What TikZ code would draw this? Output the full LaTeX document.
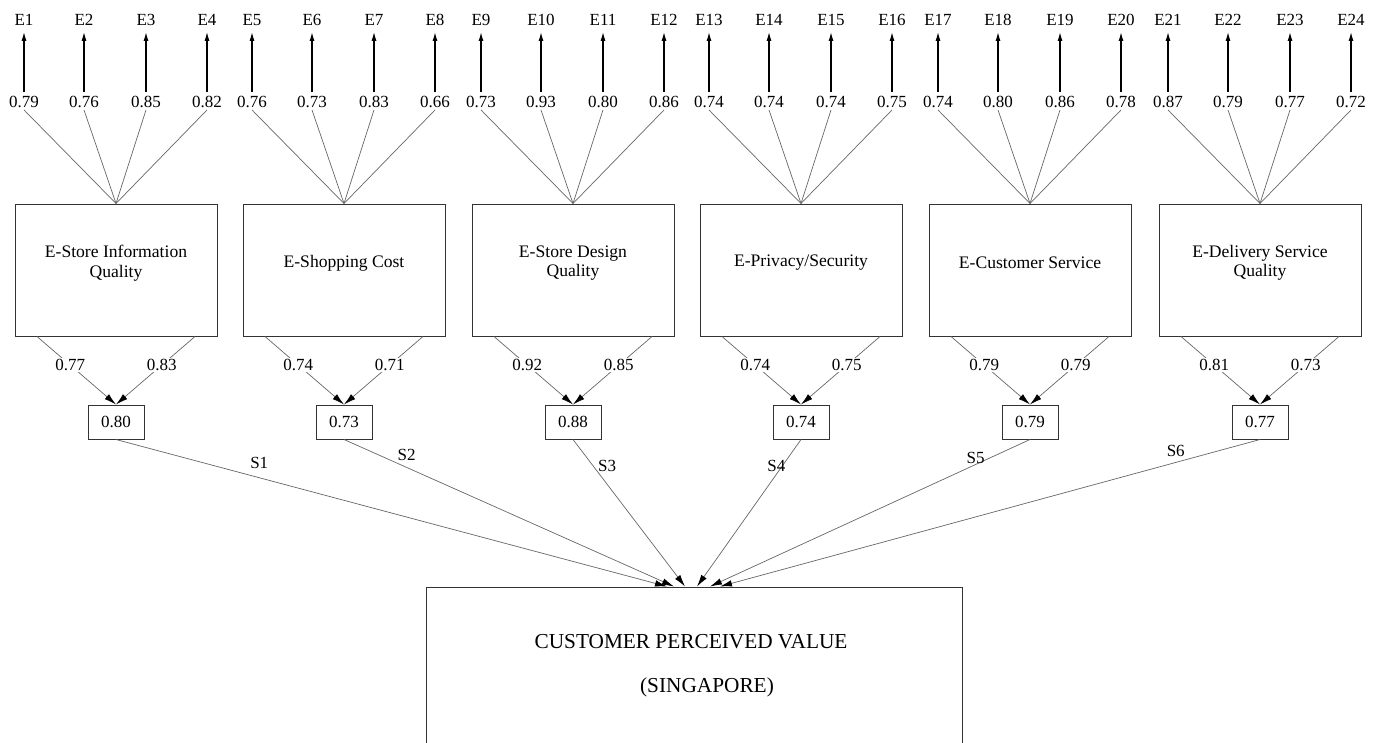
\documentclass[tikz,border=0pt]{standalone}
\usepackage{fontspec}
\setmainfont{Liberation Serif}
\usetikzlibrary{arrows.meta}
\tikzset{
  construct/.style={draw=black!80, line width=1pt, minimum width=202pt, minimum height=132pt, inner sep=0pt},
  constructname/.style={align=center, font=\fontsize{17.6}{19.5}\selectfont},
  scorebox/.style={draw=black!80, line width=1pt, minimum width=56pt, minimum height=34pt, inner sep=0pt, font=\fontsize{17}{19}\selectfont},
  targetbox/.style={draw=black!80, line width=1pt, minimum width=536pt, minimum height=156pt, inner sep=0pt},
  targetname/.style={font=\fontsize{21.3}{24}\selectfont},
  itemlabel/.style={font=\fontsize{17}{19}\selectfont, inner sep=2pt},
  loading/.style={fill=white, text=black, font=\fontsize{17}{19}\selectfont, inner sep=1pt},
  slabel/.style={text=black, font=\fontsize{17}{19}\selectfont, inner sep=1pt},
  errarrow/.style={-{Latex[length=9pt,width=5pt]}, line width=1.3pt, shorten >=4pt, shorten <=2pt},
  fanline/.style={black!60, line width=0.7pt},
  patharrow/.style={black!60, line width=0.7pt, -{Latex[black, length=12pt, width=6.5pt]}}
}
\begin{document}
\begin{tikzpicture}[x=1pt,y=-1pt]
  \useasboundingbox (0,0) rectangle (1383,742);

  % outcome
  \node[targetbox] (cpv) at (694,665) {};
  \node[targetname] (cpvname) at (691,642) {CUSTOMER PERCEIVED VALUE};
  \node[targetname] (cpvcountry) at (707,687) {(SINGAPORE)};

  % one block per dimension: box, four items, score box, path to outcome
  \foreach \g/\cx/\title/\vals/\la/\lb/\score/\ends/\spos/\sx/\sy in {
      1/116/{E-Store Information\\Quality}/{0.79,0.76,0.85,0.82}/0.77/0.83/0.80/-27/0.26/0/15,
      2/344/{E-Shopping Cost}/{0.76,0.73,0.83,0.66}/0.74/0.71/0.73/-20/0.19/0/12,
      3/573/{E-Store Design\\Quality}/{0.73,0.93,0.80,0.86}/0.92/0.85/0.88/-9/0.18/14/0,
      4/801/{E-Privacy/Security}/{0.74,0.74,0.74,0.75}/0.74/0.75/0.74/3/0.18/-6/0,
      5/1030/{E-Customer Service}/{0.74,0.80,0.86,0.78}/0.79/0.79/0.79/16/0.17/0/7,
      6/1260/{E-Delivery Service\\Quality}/{0.87,0.79,0.77,0.72}/0.81/0.73/0.77/26/0.156/0/11}
  {
    \node[construct] (box\g) at (\cx,270) {};
    \node[constructname] (name\g) at (\cx,263) {\title};

    \foreach \val [count=\k] in \vals {
      \pgfmathtruncatemacro\n{4*(\g-1)+\k}
      \pgfmathsetmacro\off{{-92,-32,30,91}[\k-1]}
      \node[itemlabel] (v\n) at (\cx+\off,102) {\val};
      \node[itemlabel] (e\n) at (\cx+\off,20) {E\n};
      \draw[errarrow] (v\n) -- (e\n);
      \draw[fanline] (v\n.south) -- (box\g.north);
    }

    \node[scorebox] (score\g) at (\cx,422) {\score};
    \draw[patharrow] ([xshift=-79pt]box\g.south) -- (score\g.north)
      node[loading, pos=0.42] {\la};
    \draw[patharrow] ([xshift=79pt]box\g.south) -- (score\g.north)
      node[loading, pos=0.42] {\lb};

    \draw[patharrow] (score\g.south) -- ([xshift=\ends pt]cpv.north)
      node[slabel, pos=\spos, xshift=\sx pt, yshift=\sy pt] {S\g};
  }
\end{tikzpicture}
\end{document}
